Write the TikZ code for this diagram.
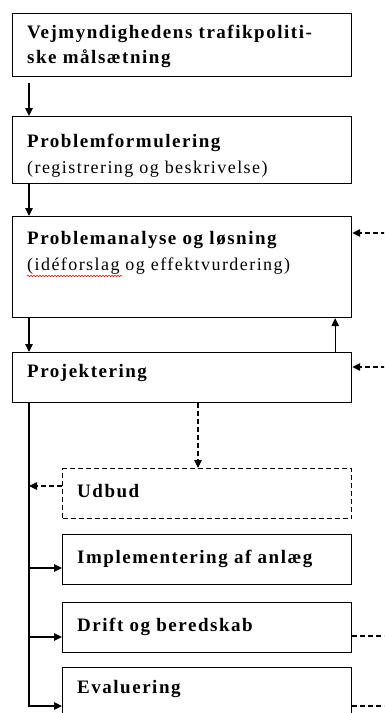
\documentclass[tikz,border=0pt]{standalone}
\usepackage{fontspec}
\setmainfont{Liberation Serif}
\newfontfamily\spfont{Liberation Serif}[LetterSpace=8]
\usetikzlibrary{arrows.meta,decorations.pathmorphing}
\begin{document}
\begin{tikzpicture}[x=1pt,y=-1pt,
  box/.style={draw, line width=1.2pt, anchor=north west, inner sep=0pt, minimum width=339pt},
  sbox/.style={box, minimum width=289pt},
  bl/.style={anchor=base west, inner sep=0pt, font=\spfont\fontsize{19}{20}\selectfont\bfseries},
  nl/.style={anchor=base west, inner sep=0pt, font=\spfont\fontsize{18}{20}\selectfont},
  conn/.style={line width=1.2pt},
  arr/.style={conn, -{Triangle[length=8pt,width=7.5pt]}},
  darr/.style={arr, dash pattern=on 5pt off 3pt},
  dl/.style={conn, dash pattern=on 5pt off 3pt}]
\clip (0,0) rectangle (384,713);
\fill[white] (0,0) rectangle (384,713);
% boxes
\node[box, minimum height=63pt] (b1) at (12,13) {};
\node[box, minimum height=67pt] (b2) at (12,116) {};
\node[box, minimum height=101pt] (b3) at (12,216) {};
\node[box, minimum height=50pt] (b4) at (12,352) {};
\node[sbox, dash pattern=on 5pt off 3pt, minimum height=50pt] (ud) at (62,468) {};
\node[sbox, minimum height=50pt] (im) at (62,534) {};
\node[sbox, minimum height=50pt] (dr) at (62,602) {};
\node[sbox, minimum height=70pt] (ev) at (62,667) {};
% texts
\node[bl] (t1a) at (27,38) {Vejmyndighedens trafikpoliti-};
\node[bl] (t1b) at (27,63) {ske målsætning};
\node[bl] (t2a) at (27,147) {Problemformulering};
\node[nl] (t2b) at (27,173) {(registrering og beskrivelse)};
\node[bl] (t3a) at (27,244) {Problemanalyse og løsning};
\node[nl] (t3b) at (27,270) {(idéforslag og effektvurdering)};
\node[bl] (t4) at (27,377) {Projektering};
\node[bl] (t5) at (77,497) {Udbud};
\node[bl] (t6) at (77,563) {Implementering af anlæg};
\node[bl] (t7) at (77,631) {Drift og beredskab};
\node[bl] (t8) at (77,693) {Evaluering};
% spell-check squiggle
\draw[red, line width=0.5pt, decorate, decoration={snake, amplitude=0.8pt, segment length=3pt}] (27,276) -- (122,276);
% coordinates
\coordinate (tr) at (29,0);
\coordinate (ux) at (198,0);
\coordinate (r3) at (386,233);
\coordinate (r4) at (386,367);
\coordinate (re) at (386,0);
% connectors
\draw[arr] ([xshift=17pt,yshift=-6pt]b1.south west) -- ([xshift=17pt]b2.north west);
\draw[arr] ([xshift=17pt]b2.south west) -- ([xshift=17pt]b3.north west);
\draw[arr] ([xshift=17pt]b3.south west) -- ([xshift=17pt]b4.north west);
\draw[arr] ([xshift=-17pt]b4.north east) -- ([xshift=-17pt]b3.south east);
\draw[darr] (r3) -- (b3.east |- r3);
\draw[darr] (r4) -- (b4.east |- r4);
\draw[darr] (b4.south -| ux) -- (ud.north -| ux);
\draw[darr] ([yshift=-18pt]ud.north west) -- ([yshift=-18pt]ud.north west -| tr);
\draw[arr] ([xshift=17pt]b4.south west) |- ([yshift=-39pt]ev.north west);
\draw[arr] ([yshift=-34pt]im.north west -| tr) -- ([yshift=-34pt]im.north west);
\draw[arr] ([yshift=-35pt]dr.north west -| tr) -- ([yshift=-35pt]dr.north west);
\draw[dl] ([yshift=-34pt]dr.north east) -- ([yshift=-34pt]dr.north east -| re);
\draw[dl] ([yshift=-39pt]ev.north east) -- ([yshift=-39pt]ev.north east -| re);
\end{tikzpicture}
\end{document}
